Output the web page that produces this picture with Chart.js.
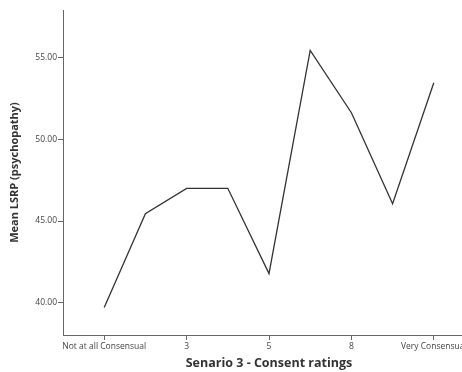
<!DOCTYPE html>
<html>
<head>
<meta charset="utf-8">
<script src="https://cdn.jsdelivr.net/npm/chart.js@4"></script>
<style>
html,body{margin:0;padding:0;background:#fff;overflow:hidden;width:462px;height:372px;}
canvas{display:block;}
</style>
</head>
<body>
<canvas id="c" width="480" height="372"></canvas>
<script>
const categories = ["Not at all Consensual","2","3","4","5","6","8","9","Very Consensual"];
const meanLSRP = [39.71, 45.45, 47.0, 47.0, 41.78, 55.45, 51.63, 46.06, 53.47];
const labeledCategories = [0, 2, 4, 6, 8];
const yTicks = [40, 45, 50, 55];

const points = meanLSRP.map((v, i) => ({x: i + 1, y: v}));
const tickFont = {family: "'Open Sans', sans-serif", size: 8.5};
const xTitleFont = {family: "'Open Sans', sans-serif", size: 12.5, weight: 'bold'};
const yTitleFont = {family: "'Open Sans', sans-serif", size: 11, weight: 'bold'};

new Chart(document.getElementById('c'), {
  type: 'line',
  data: {
    datasets: [{
      data: points,
      borderColor: '#333',
      borderWidth: 1.3,
      pointRadius: 0,
      tension: 0,
      fill: false
    }]
  },
  options: {
    responsive: false,
    animation: false,
    layout: {padding: {left: 0, right: 5, top: 10, bottom: 0}},
    plugins: {legend: {display: false}, tooltip: {enabled: false}},
    scales: {
      x: {
        type: 'linear',
        min: 0, max: 10,
        afterBuildTicks: s => { s.ticks = labeledCategories.map(i => ({value: i + 1})); },
        afterFit: s => { s.height = 37; },
        grid: {display: true, drawOnChartArea: false, tickLength: 5, color: '#666'},
        border: {display: true, color: '#666', width: 1},
        ticks: {
          font: tickFont, color: '#444', padding: 1, maxRotation: 0, autoSkip: false,
          callback: v => categories[v - 1]
        },
        title: {display: true, text: 'Senario 3 - Consent ratings', font: xTitleFont, color: '#333', padding: {top: 0, bottom: 1}}
      },
      y: {
        min: 38.02, max: 57.92,
        afterBuildTicks: s => { s.ticks = yTicks.map(v => ({value: v})); },
        afterFit: s => { s.width = 63; },
        grid: {display: true, drawOnChartArea: false, tickLength: 5, color: '#666'},
        border: {display: true, color: '#666', width: 1},
        ticks: {font: tickFont, color: '#444', padding: 1, callback: v => Number(v).toFixed(2)},
        title: {display: true, text: 'Mean LSRP (psychopathy)', font: yTitleFont, color: '#333', padding: {top: 8, bottom: 0}}
      }
    }
  }
});
</script>
</body>
</html>
